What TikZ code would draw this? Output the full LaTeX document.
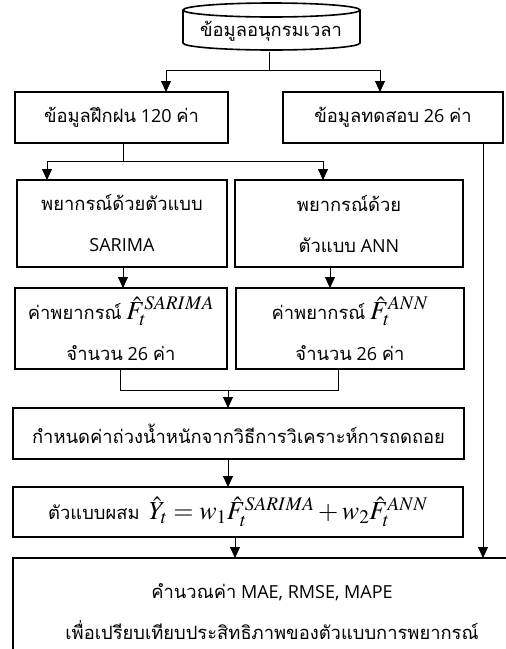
\documentclass[tikz,border=0pt]{standalone}
\usepackage{mathptmx}
\usepackage{fontspec}
\setmainfont[Scale=1.0]{Open Sans}
\newfontfamily\thaifont[Script=Thai,Scale=1.02]{Loma}
\newcommand{\tha}[1]{{\thaifont #1}}
\usetikzlibrary{arrows.meta,calc}
\newcommand{\mth}[1]{{\fontsize{26}{26}\selectfont$#1$}}
\begin{document}
\begin{tikzpicture}[x=1pt,y=-1pt,
  box/.style={draw, line width=1.6pt, align=center, inner sep=0pt, outer sep=0pt,
    font=\fontsize{18}{41}\selectfont},
  conn/.style={line width=0.8pt},
  arr/.style={conn,-{Triangle[width=10pt,length=11pt]}}]
\useasboundingbox (0,0) rectangle (506,649);
\clip (0,0) rectangle (506,649);
\fill[white] (0,0) rectangle (506,649);
% cylinder
\node[inner sep=0pt, minimum width=177, minimum height=47] (cyl) at (271.5,28) {};
\node[inner sep=0pt, font=\fontsize{18}{20}\selectfont] (cyltext) at (271,31) {\tha{ข้อมูลอนุกรมเวลา}};
\draw[line width=1.6pt] (271.5,10) ellipse [x radius=88.5, y radius=7];
\draw[line width=1.6pt] (183,10) -- (183,43) arc[start angle=180, end angle=0, x radius=88.5, y radius=7] -- (360,10);
% boxes
\node[box, minimum width=213, minimum height=51] (train) at (121.5,117.5) {\tha{ข้อมูลฝึกฝน} 120 \tha{ค่า}};
\node[box, minimum width=220, minimum height=51] (test) at (393,117.5) {\tha{ข้อมูลทดสอบ} 26 \tha{ค่า}};
\node[box, minimum width=210, minimum height=87] (sar) at (122,223.5) {\tha{พยากรณ์ด้วยตัวแบบ}\\SARIMA};
\node[box, minimum width=228, minimum height=87] (ann) at (349,223.5) {\tha{พยากรณ์ด้วย}\\\tha{ตัวแบบ} ANN};
\node[box, minimum width=212, minimum height=81] (fs) at (121,328.5) {\tha{ค่าพยากรณ์} \mth{\hat{F}_t^{SARIMA}}\\\tha{จำนวน} 26 \tha{ค่า}};
\node[box, minimum width=228, minimum height=81] (fa) at (350,328.5) {\tha{ค่าพยากรณ์} \mth{\hat{F}_t^{ANN}}\\\tha{จำนวน} 26 \tha{ค่า}};
\node[box, minimum width=451, minimum height=51] (wt) at (238.5,433.5) {\tha{กำหนดค่าถ่วงน้ำหนักจากวิธีการวิเคราะห์การถดถอย}};
\node[box, minimum width=450, minimum height=50] (mix) at (238,512) {\tha{ตัวแบบผสม} \ \mth{\hat{Y}_t = w_1\hat{F}_t^{SARIMA} + w_2\hat{F}_t^{ANN}}};
\node[box, minimum width=518, minimum height=107] (eval) at (272,611.5) {\tha{คำนวณค่า} MAE, RMSE, MAPE\\\tha{เพื่อเปรียบเทียบประสิทธิภาพของตัวแบบการพยากรณ์}};
% connectors
\coordinate (j1) at (269,70);
\coordinate (aL) at (166,70);
\coordinate (aR) at (380,70);
\draw[conn] (j1 |- cyl.south) -- (j1);
\draw[conn] (aL) -- (aR);
\draw[arr] (aL) -- (aL |- train.north);
\draw[arr] (aR) -- (aR |- test.north);
\coordinate (j2) at (123,161);
\coordinate (bL) at (47,161);
\coordinate (bR) at (323,161);
\draw[conn] (j2 |- train.south) -- (j2);
\draw[conn] (bL) -- (bR);
\draw[arr] (bL) -- (bL |- sar.north);
\draw[arr] (bR) -- (bR |- ann.north);
\coordinate (c1) at (123,0);
\coordinate (c2) at (330,0);
\draw[arr] (c1 |- sar.south) -- (c1 |- fs.north);
\draw[arr] (c2 |- ann.south) -- (c2 |- fa.north);
\coordinate (dL) at (120,390);
\coordinate (dR) at (338,390);
\coordinate (dM) at (228,390);
\draw[conn] (dL |- fs.south) -- (dL) -- (dR) -- (dR |- fa.south);
\draw[arr] (dM) -- (dM |- wt.north);
\draw[arr] (dM |- wt.south) -- (dM |- mix.north);
\coordinate (e1) at (235,0);
\draw[arr] (e1 |- mix.south) -- (e1 |- eval.north);
\coordinate (r1) at (483,0);
\draw[arr] (r1 |- test.south) -- (r1 |- eval.north);
\end{tikzpicture}
\end{document}
